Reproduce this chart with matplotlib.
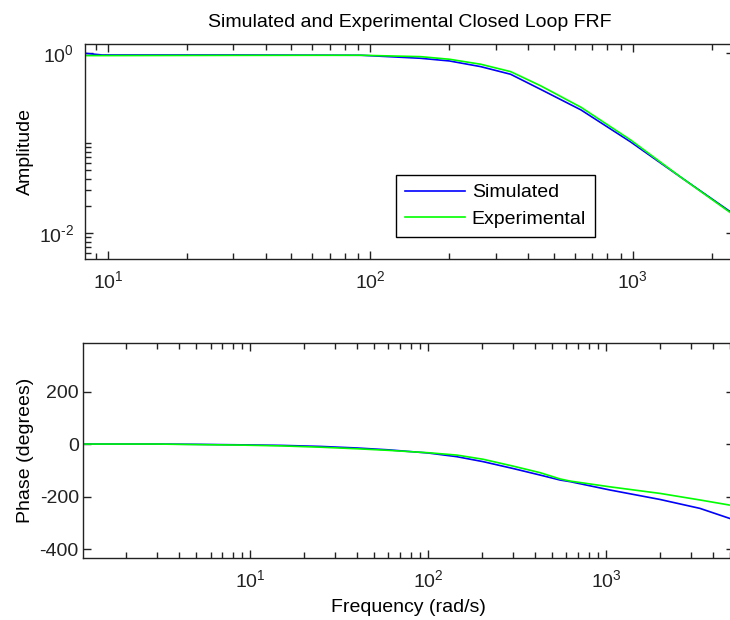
import matplotlib
matplotlib.use("Agg")
import matplotlib.pyplot as plt
from matplotlib.ticker import FixedLocator, FixedFormatter, NullFormatter

plt.rcParams['font.family'] = ['Liberation Sans', 'DejaVu Sans']
plt.rcParams['mathtext.fontset'] = 'custom'
plt.rcParams['mathtext.rm'] = 'Liberation Sans'
plt.rcParams['mathtext.it'] = 'Liberation Sans'
plt.rcParams['axes.unicode_minus'] = False

# closed loop amplitude (rad/s, |H|)
amp_freq = [8.2, 9.5, 30, 92, 155, 200, 263, 342, 446, 634, 979, 1512, 2430]
amp_sim = [0.99, 0.95, 0.95, 0.943, 0.873, 0.815, 0.705, 0.58, 0.393, 0.233, 0.103, 0.0422, 0.0161]
amp_exp = [0.935, 0.935, 0.94, 0.943, 0.91, 0.851, 0.749, 0.62, 0.43, 0.249, 0.108, 0.0422, 0.0157]

# closed loop phase (rad/s, degrees)
phase_freq = [1.15, 3, 5, 9, 15, 25, 40, 60, 100, 145, 204, 300, 426, 552, 627, 1053, 2010, 3370, 5200]
phase_sim = [0, 0, -1, -3, -5, -9, -15, -22, -34, -48, -67, -93, -118, -137, -143, -175, -211, -245, -288]
phase_exp = [0, 0, -2, -4, -7, -12, -18, -24, -33, -42, -58, -84, -109, -133, -141, -163, -188, -213, -235]

amp_ticks = [0.01, 1]
amp_ticklabels = [r'10$^{\text{-}2}$', r'10$^{0}$']

fs = 14
blue = '#0000ff'
green = '#00ff00'

fig = plt.figure(figsize=(7.3, 6.2), dpi=100)
ax1 = fig.add_axes([0.1164, 0.5823, 0.889, 0.3468])
ax2 = fig.add_axes([0.1137, 0.1, 0.8918, 0.3468])

ax1.loglog(amp_freq, amp_sim, color=blue, lw=1.2, label='Simulated')
ax1.loglog(amp_freq, amp_exp, color=green, lw=1.2, label='Experimental')
ax1.set_xlim(8.17, 2427)
ax1.set_ylim(0.00514, 1.259)
ax1.yaxis.set_major_locator(FixedLocator(amp_ticks))
ax1.yaxis.set_major_formatter(FixedFormatter(amp_ticklabels))
ax1.yaxis.set_minor_locator(FixedLocator([0.006, 0.007, 0.008, 0.009, 0.02, 0.03, 0.04,
                                          0.05, 0.06, 0.07, 0.08, 0.09, 0.1]))
ax1.yaxis.set_minor_formatter(NullFormatter())
ax1.set_title('Simulated and Experimental Closed Loop FRF', fontsize=fs, pad=12)
ax1.set_ylabel('Amplitude', fontsize=fs)
ax1.yaxis.set_label_coords(-0.078, 0.5)
leg = ax1.legend(loc='upper left', bbox_to_anchor=(0.479, 0.39), borderaxespad=0,
                 fontsize=fs, fancybox=False, edgecolor='black', framealpha=1,
                 handlelength=3.1, handletextpad=0.35, labelspacing=0.45, borderpad=0.45)
leg.get_frame().set_linewidth(1.0)

ax2.semilogx(phase_freq, phase_sim, color=blue, lw=1.2)
ax2.semilogx(phase_freq, phase_exp, color=green, lw=1.2)
ax2.set_xlim(1.153, 5240)
ax2.set_ylim(-434, 385)
ax2.set_yticks([-400, -200, 0, 200])
ax2.set_ylabel('Phase (degrees)', fontsize=fs)
ax2.yaxis.set_label_coords(-0.076, 0.5)
ax2.set_xlabel('Frequency (rad/s)', fontsize=fs)
ax2.xaxis.set_label_coords(0.5, -0.19)

for ax in (ax1, ax2):
    for s in ax.spines.values():
        s.set_linewidth(1.0)
        s.set_color('#222222')
    ax.tick_params(which='both', direction='in', top=True, right=True,
                   labelsize=fs, colors='#222222', width=1.0)
    ax.tick_params(which='major', length=6)
    ax.tick_params(which='minor', length=4)
    ax.tick_params(axis='x', pad=8)

ax1.tick_params(axis='y', which='minor', right=False)
ax1.tick_params(axis='y', pad=8)
ax2.tick_params(axis='y', pad=3)

fig.savefig('out.png', dpi=100)
